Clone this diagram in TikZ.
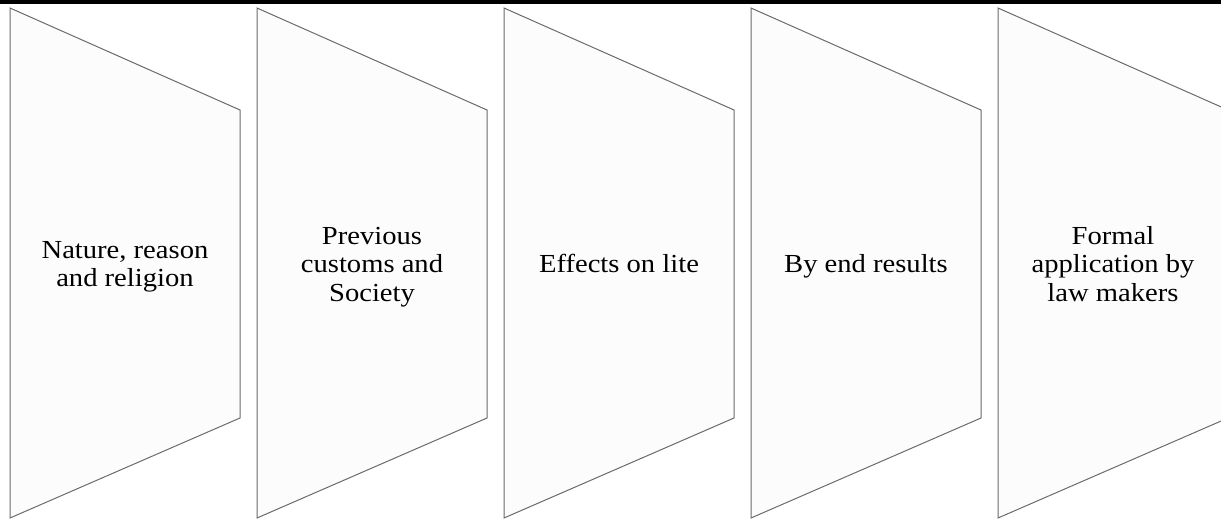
\documentclass[tikz,border=0pt]{standalone}
\usepackage{fontspec}
\setmainfont{Liberation Serif}[FakeStretch=1.1]
\tikzset{
  panel/.style={draw=black!58, fill=black!1, line width=1pt, line join=miter},
  label/.style={font=\fontsize{26}{28.5}\selectfont, align=center, text=black, inner sep=0pt}
}
\begin{document}
\begin{tikzpicture}[x=1pt,y=-1pt]
\useasboundingbox (0,0) rectangle (1221,520);
\clip (0,0) rectangle (1221,520);
\fill[black] (0,0) rectangle (1221,4);
\foreach \i/\x in {1/10,2/257,3/504,4/751,5/998}{
  \draw[panel] (\x,8) -- (\x+230,110) -- (\x+230,418) -- (\x,518) -- cycle;
  \coordinate (c\i) at (\x+115,267);
}
\node[label] (t1) at (c1) {\strut Nature, reason\\\strut and religion};
\node[label] (t2) at (c2) {\strut Previous\\\strut customs and\\\strut Society};
\node[label] (t3) at (c3) {\strut Effects on lite};
\node[label] (t4) at (c4) {\strut By end results};
\node[label] (t5) at (c5) {\strut Formal\\\strut application by\\\strut law makers};
\end{tikzpicture}
\end{document}
